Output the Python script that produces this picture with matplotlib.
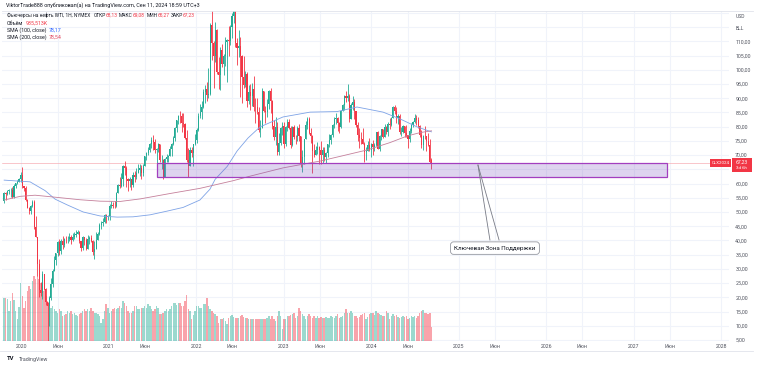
import numpy as np
import pandas as pd
import matplotlib
matplotlib.use("Agg")
import matplotlib.pyplot as plt
import matplotlib.dates as mdates
from matplotlib.patches import Rectangle
from matplotlib.lines import Line2D

plt.rcParams['font.family'] = ['Roboto', 'DejaVu Sans']

# ---------------- data (weekly WTI, CL1!) ----------------
first_week = "2019-10-21"
first_open = 53.78
last_open = 68.13

closes = [
    56.66, 56.20, 57.24, 57.72, 57.77, 55.17, 59.20, 60.07, 60.44, 61.72, 63.05,
    59.04, 58.54, 54.19, 51.56, 50.32, 52.05, 53.38, 44.76, 41.28, 31.73, 22.43, 21.51, 28.34,
    22.76, 18.27, 16.94, 19.78, 24.74, 29.43, 33.25, 35.49, 39.55, 36.26, 39.75, 38.49, 40.65,
    40.55, 40.59, 41.29, 40.27, 41.22, 42.01, 42.34, 42.97, 39.77, 37.33, 41.11, 40.25, 37.05,
    40.60, 40.88, 39.85, 35.79, 37.14, 40.13, 42.15, 45.53, 46.26, 46.57, 49.10, 48.23, 48.52,
    52.24, 52.36, 52.27, 52.20, 56.85, 59.47, 59.24, 61.50, 66.09, 65.61, 61.42, 60.97, 61.45,
    59.32, 63.13, 62.14, 63.58, 64.90, 65.37, 63.58, 66.32, 69.62, 70.91, 71.64, 74.05, 75.16,
    74.56, 71.81, 72.07, 73.95, 68.28, 68.44, 62.32, 68.74, 69.29, 69.72, 71.97, 73.98, 75.88,
    79.35, 82.28, 83.76, 83.57, 81.27, 80.79, 76.10, 68.15, 66.26, 71.67, 70.86, 73.79, 75.21,
    78.90, 83.82, 85.14, 86.82, 92.31, 93.10, 91.07, 91.59, 115.68, 109.33, 104.70, 113.90, 99.27,
    98.26, 106.95, 102.07, 104.69, 109.77, 110.49, 110.28, 115.07, 118.87, 120.67, 109.56, 107.62,
    108.43, 104.79, 97.59, 94.70, 98.62, 89.01, 92.09, 90.77, 93.06, 86.87, 86.79, 85.11, 78.74,
    79.49, 92.64, 85.61, 85.05, 87.90, 92.61, 88.96, 80.08, 76.28, 79.98, 71.02, 74.29, 79.56, 80.26,
    73.77, 79.86, 81.64, 79.68, 73.39, 79.72, 76.34, 76.32, 79.68, 76.68, 66.74, 69.26, 75.67,
    80.70, 82.52, 77.87, 76.78, 71.34, 70.04, 71.69, 72.67, 71.74, 70.17, 71.78, 69.16, 70.64,
    73.86, 75.42, 77.07, 80.58, 82.82, 83.19, 81.25, 79.83, 85.55, 87.51, 90.77, 90.03, 90.79,
    82.79, 87.69, 88.75, 85.54, 80.51, 77.17, 75.89, 75.54, 74.07, 71.23, 71.43, 73.56, 71.65,
    73.81, 72.68, 73.41, 78.01, 72.28, 76.84, 79.19, 76.49, 79.97, 78.01, 81.04, 80.63, 83.17,
    86.91, 85.66, 83.14, 83.85, 78.11, 78.26, 80.06, 77.72, 76.99, 75.53, 78.45, 80.73, 81.54,
    83.16, 82.21, 80.13, 77.16, 73.52, 76.84, 76.65, 74.83, 73.55, 67.67, 67.23,
]

highs = [
    56.92, 56.89, 57.88, 57.92, 58.44, 58.69, 59.85, 60.24, 61.21, 61.96, 64.09,
    65.65, 59.30, 59.28, 54.61, 51.63, 52.44, 54.29, 54.04, 48.66, 34.88, 33.33, 25.24, 29.13,
    28.36, 23.30, 18.26, 20.48, 26.74, 29.81, 34.66, 35.53, 39.84, 40.44, 40.50, 41.63, 40.95,
    41.42, 41.64, 42.51, 42.08, 42.64, 43.10, 43.54, 43.78, 43.43, 39.25, 41.51, 41.20, 40.75,
    41.84, 41.64, 41.98, 40.14, 39.67, 43.06, 42.96, 46.26, 46.68, 47.74, 49.36, 49.46, 48.96,
    52.75, 53.93, 53.66, 53.75, 56.94, 59.81, 62.26, 63.81, 66.40, 67.98, 66.04, 61.88, 62.30,
    61.05, 64.23, 64.30, 65.47, 66.99, 66.79, 66.50, 67.00, 69.76, 71.23, 72.99, 74.25, 76.22,
    76.98, 75.52, 72.42, 74.22, 73.71, 69.98, 68.77, 69.08, 70.39, 70.10, 73.09, 74.14, 76.67,
    79.78, 82.38, 84.00, 85.41, 84.88, 84.97, 81.44, 78.98, 72.60, 72.82, 72.80, 73.89, 77.51,
    79.41, 84.78, 87.91, 88.84, 93.17, 94.66, 95.82, 100.54, 116.57, 130.50, 109.95, 116.64, 114.33,
    104.56, 108.10, 109.20, 105.68, 111.37, 110.78, 115.49, 115.75, 119.98, 123.18, 123.68, 111.20,
    114.05, 111.45, 105.33, 104.95, 99.67, 99.26, 94.65, 94.98, 95.39, 97.65, 90.20, 90.22, 86.98,
    82.49, 93.64, 92.47, 87.10, 89.76, 92.75, 93.74, 89.30, 82.41, 83.34, 81.74, 77.85, 79.96, 81.50,
    81.49, 80.06, 82.65, 82.66, 80.23, 80.32, 80.42, 77.03, 80.21, 80.94, 75.84, 71.67, 75.72,
    81.81, 83.53, 83.29, 79.43, 76.89, 74.00, 73.24, 74.73, 73.32, 75.06, 72.67, 72.94, 71.11,
    74.02, 77.33, 77.37, 80.84, 83.38, 84.89, 83.47, 81.55, 85.89, 88.08, 91.15, 92.43, 95.03,
    91.49, 88.35, 90.79, 89.85, 84.95, 81.51, 79.69, 78.02, 79.67, 74.53, 72.72, 75.03, 76.18,
    74.38, 75.27, 74.40, 78.23, 78.42, 77.18, 79.26, 79.30, 80.85, 80.23, 81.62, 83.12, 83.30,
    87.12, 87.67, 86.76, 84.46, 84.39, 79.88, 80.60, 80.26, 80.62, 77.02, 79.44, 81.34, 82.03,
    84.52, 83.99, 83.25, 80.67, 78.69, 77.14, 80.24, 76.34, 77.70, 75.58, 69.08,
]

lows = [
    53.18, 54.19, 55.86, 56.26, 55.22, 55.03, 55.01, 58.28, 59.90, 60.50, 60.67,
    58.60, 57.36, 53.82, 51.34, 49.31, 49.46, 51.86, 44.00, 41.05, 27.34, 20.06, 20.52, 19.27,
    22.57, 17.31, -40.32, 10.07, 19.11, 23.64, 29.14, 31.19, 34.39, 34.81, 35.26, 37.08, 37.76,
    38.95, 39.11, 39.81, 38.72, 39.63, 40.50, 41.36, 42.19, 39.25, 36.13, 36.66, 38.49, 36.63,
    37.17, 38.81, 39.43, 34.92, 33.64, 39.24, 40.07, 42.04, 44.06, 44.94, 46.25, 46.16, 47.08,
    47.18, 51.37, 51.45, 51.31, 51.84, 56.58, 58.40, 58.75, 59.15, 63.13, 58.66, 57.32, 58.86,
    57.63, 58.81, 60.60, 61.56, 63.55, 62.81, 61.56, 62.76, 66.20, 68.17, 70.02, 71.24, 72.33,
    71.73, 70.76, 65.01, 71.10, 67.67, 65.15, 61.74, 62.38, 67.48, 67.58, 69.73, 69.60, 73.54,
    75.08, 78.26, 80.87, 81.31, 78.25, 80.04, 75.63, 67.40, 62.43, 66.92, 69.35, 66.12, 73.57,
    74.27, 78.46, 83.12, 82.63, 86.55, 88.17, 88.91, 90.06, 91.12, 103.46, 93.53, 102.61, 98.44,
    93.33, 92.93, 100.81, 98.20, 101.23, 95.66, 104.70, 108.60, 111.20, 116.41, 108.14, 101.53,
    104.42, 90.56, 88.33, 93.66, 93.79, 87.01, 87.89, 85.73, 87.37, 85.58, 81.20, 84.44, 78.10,
    76.25, 79.91, 85.02, 81.30, 83.37, 86.10, 84.73, 79.19, 75.24, 73.60, 70.08, 70.11, 73.46, 76.93,
    72.46, 73.06, 78.51, 79.20, 72.50, 73.32, 75.70, 73.80, 75.08, 75.00, 65.65, 64.12, 66.82,
    79.00, 79.24, 77.30, 74.36, 63.64, 69.39, 69.87, 70.27, 67.03, 66.80, 67.06, 67.75, 67.05,
    69.42, 72.72, 73.92, 76.49, 79.54, 81.08, 78.63, 77.62, 79.38, 85.57, 85.98, 88.71, 88.95,
    81.50, 82.79, 85.72, 82.61, 79.98, 74.83, 72.37, 73.79, 73.78, 67.71, 68.17, 71.39, 71.44,
    69.28, 70.13, 71.35, 73.17, 72.03, 71.41, 75.39, 75.85, 76.27, 77.54, 76.80, 79.05, 80.06,
    83.29, 84.41, 81.23, 81.05, 77.52, 76.74, 77.66, 76.20, 76.44, 72.48, 74.52, 77.84, 79.70,
    81.18, 80.70, 79.62, 76.48, 72.41, 71.67, 75.76, 71.46, 73.16, 67.36, 65.27,
]

volumes_k = [
    2880, 2890, 2810, 2010, 2680, 3220, 2750, 2000, 1470, 2280,
    3890, 3020, 2210, 2680, 3350, 3690, 3480, 4020, 4350, 4150,
    4360, 4160, 3890, 3690, 3350, 3020, 2680, 2550, 2210, 2350,
    2140, 2010, 1880, 2140, 2010, 1680, 1740, 1810, 2010, 1880,
    2010, 1810, 1880, 1740, 1680, 1810, 1880, 2010, 2140, 2010,
    2140, 2010, 2210, 2010, 1880, 1880, 1810, 1680, 1210, 1470,
    2010, 2480, 2210, 1880, 2010, 2140, 2210, 2140, 2210, 2350,
    2210, 2680, 2550, 2350, 2010, 1880, 1880, 2010, 2350, 2350,
    2140, 2140, 2210, 2210, 2350, 2210, 2480, 2350, 2140, 2010,
    2140, 2350, 2210, 1810, 1810, 1880, 2010, 2140, 2010, 2140,
    2350, 2550, 2550, 2410, 2550, 2550, 2350, 2350, 2680, 3080,
    2140, 2010, 1470, 1740, 2010, 2350, 2350, 2210, 2210, 2480,
    2480, 2880, 2350, 2140, 2010, 1880, 1810, 1680, 1210, 1470,
    1470, 1540, 1340, 1140, 1540, 1680, 1740, 1610, 1540, 1540,
    1540, 1680, 1740, 1610, 1540, 1540, 1470, 1470, 1470, 1470,
    1470, 1470, 1470, 1470, 1470, 1470, 1470, 1540, 1680, 1470,
    1680, 1470, 1340, 1680, 2010, 1680, 800, 1470, 1470, 1680,
    1680, 1740, 1810, 1880, 1540, 1680, 2210, 2010, 1810, 1680,
    1470, 1680, 1810, 1680, 1540, 1680, 1540, 1680, 1540, 1610,
    1540, 1540, 1610, 1540, 1540, 1680, 1610, 1540, 1680, 1810,
    1540, 1610, 1680, 1880, 2140, 1880, 1880, 2010, 1880, 1680,
    1680, 1540, 1610, 1740, 1810, 1880, 1470, 1610, 1810, 1880,
    1880, 1740, 2010, 1880, 1810, 1740, 1680, 1680, 2010, 1880,
    1470, 1680, 1810, 1680, 1740, 1610, 1540, 1610, 1680, 1610,
    1680, 1470, 1540, 1680, 1610, 1680, 1540, 1680, 1880, 2010,
    2080, 1880, 1880, 1810, 1880, 935.513,
]

sma100_dates = ["2019-10-22", "2020-02-07", "2020-04-10", "2020-05-22", "2020-07-11",
                "2020-09-16", "2020-11-26", "2021-02-05", "2021-04-12", "2021-06-22",
                "2021-09-01", "2021-11-07", "2022-01-16", "2022-02-27", "2022-03-21",
                "2022-05-10", "2022-06-21", "2022-08-05", "2022-09-24", "2022-12-29",
                "2023-04-21", "2023-08-12", "2023-11-03", "2024-02-20", "2024-05-01",
                "2024-07-11", "2024-09-09"]
sma100_vals = [61.2, 60.6, 57.5, 54.5, 52.5, 50.0, 48.6, 48.2, 48.3, 49.0, 50.3, 51.6,
               54.2, 58.0, 61.5, 66.0, 71.5, 76.0, 79.9, 83.4, 85.1, 85.3, 86.9, 85.1,
               82.7, 79.9, 78.17]

sma200_dates = ["2019-10-22", "2019-12-28", "2020-02-28", "2020-05-22", "2020-09-03",
                "2020-11-26", "2021-02-17", "2021-05-12", "2021-09-14", "2022-01-16",
                "2022-06-04", "2022-08-14", "2022-12-29", "2023-06-02", "2023-09-06",
                "2023-12-15", "2024-03-20", "2024-05-30", "2024-07-23", "2024-09-09"]
sma200_vals = [54.2, 55.5, 55.9, 55.2, 54.3, 53.8, 53.7, 54.6, 56.5, 58.3, 61.0, 62.6,
               65.5, 67.9, 69.8, 71.8, 74.4, 76.7, 77.9, 78.54]

header_ohlc = ["68,13", "69,08", "65,27", "67,23"]
header_volume = "935,513K"
header_sma100 = "78,17"
header_sma200 = "78,54"
last_price = 67.23

zone_start, zone_end = "2021-07-21", "2027-05-20"
zone_low, zone_high = 62.4, 67.1

price_ticks = [p for p in range(5, 115, 5) if p != 65]
year_ticks = [str(y) for y in range(2020, 2029)]
june_ticks = [f"{y}-06-01" for y in range(2020, 2028)]

# ---------------- figure ----------------
W, H = 758, 367
fig = plt.figure(figsize=(W / 100, H / 100), dpi=100)
fig.patch.set_facecolor('white')
L, R, T, B = 2, 729, 11, 341
rect = [L / W, 1 - B / H, (R - L) / W, (B - T) / H]
YMIN, YMAX = 4.65, 120.65
VOL_TOP = 22050

axv = fig.add_axes(rect)
ax = fig.add_axes(rect, sharex=axv)
ax.patch.set_alpha(0)

xmin = mdates.datestr2num("2019-10-13")
xmax = mdates.datestr2num("2028-02-03")

dates = pd.date_range(first_week, periods=len(closes), freq="7D")
xd = mdates.date2num(dates)
c = np.array(closes)
o = np.r_[first_open, c[:-1]]
o[-1] = last_open
hi = np.maximum(np.array(highs), np.maximum(o, c))
lo = np.minimum(np.array(lows), np.minimum(o, c))
up = c >= o
UP, DN = '#22ab94', '#f23645'
cols = np.where(up, UP, DN)

# grid (behind everything, drawn on volume axes)
grid_c = '#f0f3fa'
tick_x = [mdates.datestr2num(f"{y}-01-01") for y in year_ticks] + \
         [mdates.datestr2num(d) for d in june_ticks]
for tx in tick_x:
    axv.axvline(tx, color=grid_c, lw=0.8, zorder=0)
for p in range(5, 125, 5):
    f = (p - YMIN) / (YMAX - YMIN)
    axv.axhline(f * VOL_TOP, color=grid_c, lw=0.8, zorder=0)

# volume
axv.bar(xd, volumes_k, width=6.0, color=cols, alpha=0.45, linewidth=0, zorder=2)
axv.set_ylim(0, VOL_TOP)
axv.set_xlim(xmin, xmax)
axv.axis('off')

# candles
ax.vlines(xd, lo, hi, colors=cols, lw=0.6, zorder=3)
ax.bar(xd, np.abs(c - o), bottom=np.minimum(o, c), width=4.6, color=cols,
       linewidth=0, zorder=4)

# SMAs
ax.plot(mdates.datestr2num(sma100_dates), sma100_vals, color='#7ea3e6', lw=0.6, zorder=5)
ax.plot(mdates.datestr2num(sma200_dates), sma200_vals, color='#c5809b', lw=0.6, zorder=5)

# last price line
ax.axhline(last_price, color='#f7a5ad', lw=0.45, zorder=2)

# support zone
x0 = mdates.datestr2num(zone_start)
x1 = mdates.datestr2num(zone_end)
ax.add_patch(Rectangle((x0, zone_low), x1 - x0, zone_high - zone_low,
                       facecolor='#7e57c2', alpha=0.25, edgecolor='none', zorder=6))
ax.add_patch(Rectangle((x0, zone_low), x1 - x0, zone_high - zone_low,
                       facecolor='none', edgecolor='#a33fbf', lw=0.9, zorder=6))

# callout
pa = (mdates.datestr2num("2025-03-22"), 66.5)
pb1 = (mdates.datestr2num("2025-05-11"), 40.15)
pb2 = (mdates.datestr2num("2025-06-18"), 40.15)
ax.plot([pa[0], pb1[0]], [pa[1], pb1[1]], color='#787b86', lw=0.6, zorder=7)
ax.plot([pa[0], pb2[0]], [pa[1], pb2[1]], color='#787b86', lw=0.6, zorder=7)
ax.text(mdates.datestr2num("2025-06-01"), 37.3, "Ключевая Зона Поддержки",
        ha='center', va='center', fontsize=4.5, color='#131722', zorder=8,
        bbox=dict(boxstyle='round,pad=0.6,rounding_size=0.5', fc='white', ec='#9598a1', lw=0.6))

ax.set_xlim(xmin, xmax)
ax.set_ylim(YMIN, YMAX)

# axes ticks
ax.yaxis.tick_right()
ax.set_yticks(price_ticks)
ax.set_yticklabels([f"{p:.2f}".replace('.', ',') for p in price_ticks])
ax.tick_params(axis='y', length=0, pad=4.5, labelsize=3.8, labelcolor='#50535e')
xt = [mdates.datestr2num(f"{y}-01-01") for y in year_ticks] + \
     [mdates.datestr2num(d) for d in june_ticks]
xl = year_ticks + ["Июн"] * len(june_ticks)
ax.set_xticks(xt)
ax.set_xticklabels(xl)
ax.tick_params(axis='x', length=0, pad=2, labelsize=3.7, labelcolor='#50535e')
for s in ax.spines.values():
    s.set_visible(False)

# frame lines
fig.add_artist(Line2D([2 / W, 753 / W], [1 - 11 / H, 1 - 11 / H], color='#e0e3eb', lw=0.6))
fig.add_artist(Line2D([0 / W, 753 / W], [1 - 351 / H, 1 - 351 / H], color='#e0e3eb', lw=0.6))


def px(x, y):
    return x / W, 1 - y / H


renderer = fig.canvas.get_renderer()


def seq(x, y, parts, size):
    for s, col, gap in parts:
        t = fig.text(*px(x, y), s, color=col, fontsize=size, va='center', ha='left')
        bb = t.get_window_extent(renderer=renderer)
        x += bb.width + gap


DARK = '#131722'
RED = '#f23645'
fig.text(*px(6, 5), "ViktorTrade888 опубликовал(а) на TradingView.com, Сен 11, 2024 18:59 UTC+3",
         fontsize=3.9, color=DARK, va='center')
seq(7, 15.5, [("Фьючерсы на нефть WTI, 1Н, NYMEX", DARK, 3),
              ("ОТКР", DARK, 0), (header_ohlc[0], RED, 1.5),
              ("МАКС", DARK, 0), (header_ohlc[1], RED, 1.5),
              ("МИН", DARK, 0), (header_ohlc[2], RED, 1.5),
              ("ЗАКР", DARK, 0), (header_ohlc[3], RED, 0)], 3.5)
seq(7, 23.5, [("Объём", DARK, 2), (header_volume, RED, 0)], 3.8)
seq(7, 30.5, [("SMA (100, close)", DARK, 2), (header_sma100, '#2962ff', 0)], 3.8)
seq(7, 37.5, [("SMA (200, close)", DARK, 2), (header_sma200, '#e0455f', 0)], 3.8)

fig.text(*px(736, 17), "USD", fontsize=3.6, color='#50535e', va='center')
fig.text(*px(736, 29), "BLL", fontsize=3.6, color='#50535e', va='center')

# price labels on the scale
fig.add_artist(Rectangle(px(710, 166.5), 21 / W, 7.5 / H, transform=fig.transFigure,
                         facecolor=RED, edgecolor='none', zorder=5))
fig.text(*px(720.5, 162.6), "CLX2024", fontsize=3.2, color='white', ha='center', va='center', zorder=6)
fig.add_artist(Rectangle(px(731.5, 172), 20 / W, 13.5 / H, transform=fig.transFigure,
                         facecolor=RED, edgecolor='none', zorder=5))
fig.text(*px(741.5, 162.3), "67,23", fontsize=3.6, color='white', ha='center', va='center', zorder=6)
fig.text(*px(741.5, 168.5), "3d 6h", fontsize=3.2, color='white', ha='center', va='center', zorder=6)

# TradingView logo
fig.text(*px(7, 359), "TV", fontsize=4.2, color='#131722', fontweight='bold', va='center')
fig.text(*px(19, 359), "TradingView", fontsize=3.8, color='#50535e', va='center')

fig.savefig("out.png", dpi=100, facecolor='white')
